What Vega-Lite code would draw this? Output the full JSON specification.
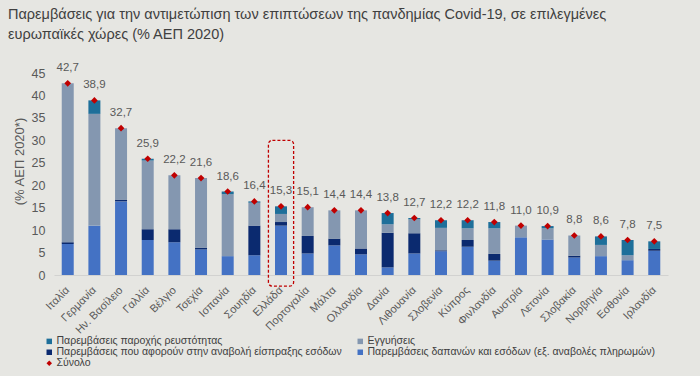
{
  "$schema": "https://vega.github.io/schema/vega-lite/v6.json",
  "width": 614,
  "height": 202,
  "autosize": {"type": "none"},
  "padding": {"left": 54, "top": 73, "right": 32, "bottom": 101},
  "background": "#E6E6E2",
  "config": {
    "view": {"stroke": null},
    "locale": {"number": {"decimal": ",", "thousands": ".", "grouping": [3], "currency": ["", " €"]}},
    "font": "Liberation Sans",
    "axisY": {"labelOverlap": false, "labelFlush": false, "tickCount": 10, "values": [0, 5, 10, 15, 20, 25, 30, 35, 40, 45]}
  },
  "title": {
    "text": ["Παρεμβάσεις για την αντιμετώπιση των επιπτώσεων της πανδημίας Covid-19, σε επιλεγμένες", "ευρωπαϊκές χώρες (% ΑΕΠ 2020)"],
    "anchor": "start",
    "frame": "group",
    "dx": -46,
    "offset": 20,
    "fontSize": 14.5,
    "font": "Liberation Sans",
    "fontWeight": "normal",
    "color": "#404040",
    "lineHeight": 20
  },
  "datasets": {
    "bars": [
      {"country": "Ιταλία", "series": "S", "value": 6.9}, {"country": "Ιταλία", "series": "D", "value": 0.4}, {"country": "Ιταλία", "series": "G", "value": 35.4}, {"country": "Ιταλία", "series": "L", "value": 0},
      {"country": "Γερμανία", "series": "S", "value": 11.0}, {"country": "Γερμανία", "series": "D", "value": 0}, {"country": "Γερμανία", "series": "G", "value": 24.9}, {"country": "Γερμανία", "series": "L", "value": 3.0},
      {"country": "Ην. Βασίλειο", "series": "S", "value": 16.4}, {"country": "Ην. Βασίλειο", "series": "D", "value": 0.4}, {"country": "Ην. Βασίλειο", "series": "G", "value": 15.9}, {"country": "Ην. Βασίλειο", "series": "L", "value": 0},
      {"country": "Γαλλία", "series": "S", "value": 7.8}, {"country": "Γαλλία", "series": "D", "value": 2.4}, {"country": "Γαλλία", "series": "G", "value": 15.3}, {"country": "Γαλλία", "series": "L", "value": 0.4},
      {"country": "Βέλγιο", "series": "S", "value": 7.3}, {"country": "Βέλγιο", "series": "D", "value": 2.9}, {"country": "Βέλγιο", "series": "G", "value": 12.0}, {"country": "Βέλγιο", "series": "L", "value": 0},
      {"country": "Τσεχία", "series": "S", "value": 5.7}, {"country": "Τσεχία", "series": "D", "value": 0.4}, {"country": "Τσεχία", "series": "G", "value": 15.5}, {"country": "Τσεχία", "series": "L", "value": 0},
      {"country": "Ισπανία", "series": "S", "value": 4.2}, {"country": "Ισπανία", "series": "D", "value": 0}, {"country": "Ισπανία", "series": "G", "value": 13.8}, {"country": "Ισπανία", "series": "L", "value": 0.6},
      {"country": "Σουηδία", "series": "S", "value": 4.4}, {"country": "Σουηδία", "series": "D", "value": 6.6}, {"country": "Σουηδία", "series": "G", "value": 5.1}, {"country": "Σουηδία", "series": "L", "value": 0.3},
      {"country": "Ελλάδα", "series": "S", "value": 11.0}, {"country": "Ελλάδα", "series": "D", "value": 0.8}, {"country": "Ελλάδα", "series": "G", "value": 1.8}, {"country": "Ελλάδα", "series": "L", "value": 1.7},
      {"country": "Πορτογαλία", "series": "S", "value": 4.8}, {"country": "Πορτογαλία", "series": "D", "value": 3.9}, {"country": "Πορτογαλία", "series": "G", "value": 6.4}, {"country": "Πορτογαλία", "series": "L", "value": 0},
      {"country": "Μάλτα", "series": "S", "value": 6.6}, {"country": "Μάλτα", "series": "D", "value": 1.5}, {"country": "Μάλτα", "series": "G", "value": 6.3}, {"country": "Μάλτα", "series": "L", "value": 0},
      {"country": "Ολλανδία", "series": "S", "value": 4.6}, {"country": "Ολλανδία", "series": "D", "value": 1.3}, {"country": "Ολλανδία", "series": "G", "value": 8.5}, {"country": "Ολλανδία", "series": "L", "value": 0},
      {"country": "Δανία", "series": "S", "value": 1.7}, {"country": "Δανία", "series": "D", "value": 7.7}, {"country": "Δανία", "series": "G", "value": 1.9}, {"country": "Δανία", "series": "L", "value": 2.5},
      {"country": "Λιθουανία", "series": "S", "value": 4.8}, {"country": "Λιθουανία", "series": "D", "value": 4.5}, {"country": "Λιθουανία", "series": "G", "value": 3.1}, {"country": "Λιθουανία", "series": "L", "value": 0.3},
      {"country": "Σλοβενία", "series": "S", "value": 5.3}, {"country": "Σλοβενία", "series": "D", "value": 0.2}, {"country": "Σλοβενία", "series": "G", "value": 5.0}, {"country": "Σλοβενία", "series": "L", "value": 1.7},
      {"country": "Κύπρος", "series": "S", "value": 6.3}, {"country": "Κύπρος", "series": "D", "value": 1.5}, {"country": "Κύπρος", "series": "G", "value": 2.6}, {"country": "Κύπρος", "series": "L", "value": 1.8},
      {"country": "Φινλανδία", "series": "S", "value": 3.2}, {"country": "Φινλανδία", "series": "D", "value": 1.5}, {"country": "Φινλανδία", "series": "G", "value": 5.7}, {"country": "Φινλανδία", "series": "L", "value": 1.4},
      {"country": "Αυστρία", "series": "S", "value": 8.4}, {"country": "Αυστρία", "series": "D", "value": 0}, {"country": "Αυστρία", "series": "G", "value": 2.6}, {"country": "Αυστρία", "series": "L", "value": 0},
      {"country": "Λετονία", "series": "S", "value": 7.9}, {"country": "Λετονία", "series": "D", "value": 0}, {"country": "Λετονία", "series": "G", "value": 2.5}, {"country": "Λετονία", "series": "L", "value": 0.5},
      {"country": "Σλοβακία", "series": "S", "value": 3.9}, {"country": "Σλοβακία", "series": "D", "value": 0.4}, {"country": "Σλοβακία", "series": "G", "value": 4.5}, {"country": "Σλοβακία", "series": "L", "value": 0},
      {"country": "Νορβηγία", "series": "S", "value": 4.2}, {"country": "Νορβηγία", "series": "D", "value": 0}, {"country": "Νορβηγία", "series": "G", "value": 2.5}, {"country": "Νορβηγία", "series": "L", "value": 1.9},
      {"country": "Εσθονία", "series": "S", "value": 3.3}, {"country": "Εσθονία", "series": "D", "value": 0}, {"country": "Εσθονία", "series": "G", "value": 1.1}, {"country": "Εσθονία", "series": "L", "value": 3.4},
      {"country": "Ιρλανδία", "series": "S", "value": 5.4}, {"country": "Ιρλανδία", "series": "D", "value": 0.4}, {"country": "Ιρλανδία", "series": "G", "value": 0}, {"country": "Ιρλανδία", "series": "L", "value": 1.7}
    ],
    "totals": [
      {"country": "Ιταλία", "total": 42.7}, {"country": "Γερμανία", "total": 38.9}, {"country": "Ην. Βασίλειο", "total": 32.7},
      {"country": "Γαλλία", "total": 25.9}, {"country": "Βέλγιο", "total": 22.2}, {"country": "Τσεχία", "total": 21.6},
      {"country": "Ισπανία", "total": 18.6}, {"country": "Σουηδία", "total": 16.4}, {"country": "Ελλάδα", "total": 15.3},
      {"country": "Πορτογαλία", "total": 15.1}, {"country": "Μάλτα", "total": 14.4}, {"country": "Ολλανδία", "total": 14.4},
      {"country": "Δανία", "total": 13.8}, {"country": "Λιθουανία", "total": 12.7}, {"country": "Σλοβενία", "total": 12.2},
      {"country": "Κύπρος", "total": 12.2}, {"country": "Φινλανδία", "total": 11.8}, {"country": "Αυστρία", "total": 11.0},
      {"country": "Λετονία", "total": 10.9}, {"country": "Σλοβακία", "total": 8.8}, {"country": "Νορβηγία", "total": 8.6},
      {"country": "Εσθονία", "total": 7.8}, {"country": "Ιρλανδία", "total": 7.5}
    ],
    "highlight": [{"country": "Ελλάδα", "lo": -2.5, "hi": 30}]
  },
  "encoding": {
    "x": {
      "field": "country", "type": "nominal", "sort": null,
      "scale": {"paddingInner": 0.55, "paddingOuter": 0.29},
      "axis": {"title": null, "labelAngle": -45, "labelAlign": "right", "labelBaseline": "top", "labelFontSize": 11, "labelColor": "#595959", "ticks": false, "domainColor": "#D2D2D0", "labelPadding": 9, "labelOffset": -4, "labelOverlap": false}
    }
  },
  "layer": [
    {
      "data": {"name": "bars"},
      "transform": [
        {"calculate": "datum.series === 'S' ? 'Παρεμβάσεις δαπανών και εσόδων (εξ. αναβολές πληρωμών)' : datum.series === 'D' ? 'Παρεμβάσεις που αφορούν στην αναβολή είσπραξης εσόδων' : datum.series === 'G' ? 'Εγγυήσεις' : 'Παρεμβάσεις παροχής ρευστότητας'", "as": "cat"},
        {"calculate": "indexof(['S','D','G','L'], datum.series)", "as": "rank"}
      ],
      "mark": {"type": "bar"},
      "encoding": {
        "y": {
          "field": "value", "type": "quantitative", "stack": "zero",
          "scale": {"domain": [0, 45], "nice": false},
          "axis": {"values": [0, 5, 10, 15, 20, 25, 30, 35, 40, 45], "labelOverlap": false, "labelFlush": false, "domain": false, "ticks": false, "grid": false, "labelFontSize": 12.5, "labelColor": "#595959", "labelPadding": 9, "title": "(% ΑΕΠ 2020*)", "titleFontSize": 13, "titleFontWeight": "normal", "titleColor": "#595959", "titlePadding": 5, "titleY": 88, "titleAlign": "center"}
        },
        "order": {"field": "rank", "type": "quantitative", "sort": "ascending"},
        "color": {
          "field": "cat", "type": "nominal",
          "scale": {
            "domain": ["Παρεμβάσεις παροχής ρευστότητας", "Εγγυήσεις", "Παρεμβάσεις που αφορούν στην αναβολή είσπραξης εσόδων", "Παρεμβάσεις δαπανών και εσόδων (εξ. αναβολές πληρωμών)", "Σύνολο"],
            "range": ["#1E6F9A", "#8497B0", "#0B2A6F", "#4472C4", "#C00000"]
          },
          "legend": {
            "orient": "none", "legendX": -10, "legendY": 263, "direction": "horizontal", "columns": 2, "title": null,
            "symbolType": "square", "symbolSize": 30, "labelFontSize": 10.5, "labelFont": "Liberation Sans", "labelColor": "#404040",
            "rowPadding": 0, "columnPadding": 13, "labelOffset": 2, "labelLimit": 400,
            "encode": {"symbols": {"update": {"shape": {"signal": "datum.label === 'Σύνολο' ? 'diamond' : 'square'"}}}}
          }
        }
      }
    },
    {
      "data": {"name": "highlight"},
      "mark": {"type": "rect", "filled": false, "stroke": "#C00000", "strokeWidth": 1.3, "strokeDash": [3, 2], "cornerRadius": 4, "width": {"band": 2.1}},
      "encoding": {
        "y": {"field": "lo", "type": "quantitative"},
        "y2": {"field": "hi"}
      }
    },
    {
      "data": {"name": "totals"},
      "transform": [{"calculate": "'Σύνολο'", "as": "cat"}],
      "mark": {"type": "point", "shape": "diamond", "filled": true, "size": 45, "opacity": 1},
      "encoding": {
        "y": {"field": "total", "type": "quantitative"},
        "color": {"field": "cat", "type": "nominal"}
      }
    },
    {
      "data": {"name": "totals"},
      "mark": {"type": "text", "dy": -15, "fontSize": 11.5, "color": "#595959"},
      "encoding": {
        "y": {"field": "total", "type": "quantitative"},
        "text": {"field": "total", "type": "quantitative", "format": ".1f"}
      }
    }
  ]
}
